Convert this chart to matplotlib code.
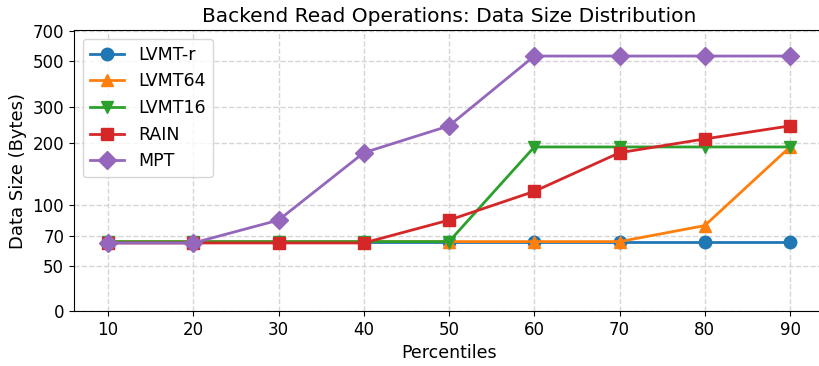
import matplotlib
matplotlib.use("Agg")
import matplotlib.pyplot as plt

percentiles = [10, 20, 30, 40, 50, 60, 70, 80, 90]

lvmt_r = [66, 66, 66, 66, 66, 66, 66, 66, 66]
lvmt64 = [66, 66, 66, 66, 66, 66, 66, 79, 191]
lvmt16 = [66, 66, 66, 66, 66, 191, 191, 191, 191]
rain = [65, 65, 65, 65, 84, 116, 179, 209, 242]
mpt = [65, 65, 84, 179, 242, 530, 530, 530, 530]

y_ticks = [0, 50, 70, 100, 200, 300, 500, 700]

fig = plt.figure(figsize=(8.2, 3.66), dpi=100)
ax = fig.add_axes([0.0902, 0.1503, 0.9148, 0.7677])

ax.plot(percentiles, lvmt_r, marker='o', markersize=9, linewidth=2, label='LVMT-r')
ax.plot(percentiles, lvmt64, marker='^', markersize=9, linewidth=2, label='LVMT64')
ax.plot(percentiles, lvmt16, marker='v', markersize=9, linewidth=2, label='LVMT16')
ax.plot(percentiles, rain, marker='s', markersize=9, linewidth=2, label='RAIN')
ax.plot(percentiles, mpt, marker='D', markersize=9, linewidth=2, label='MPT')

ax.set_yscale('symlog', linthresh=50, linscale=0.196)
ax.set_ylim(0, 710)
ax.set_yticks(y_ticks)
ax.set_yticklabels([str(t) for t in y_ticks])
ax.yaxis.set_minor_locator(matplotlib.ticker.NullLocator())
ax.set_xticks(percentiles)
ax.set_xlim(6, 94)
ax.spines['right'].set_visible(False)

ax.tick_params(labelsize=12)
ax.grid(True, linestyle='--', color='#d5d5d5', linewidth=1)
ax.set_xlabel('Percentiles', fontsize=12.5)
ax.set_ylabel('Data Size (Bytes)', fontsize=13)
ax.set_title('Backend Read Operations: Data Size Distribution', fontsize=14.5)
ax.legend(loc='upper left', fontsize=12.5)

fig.savefig('out.png', dpi=100)
